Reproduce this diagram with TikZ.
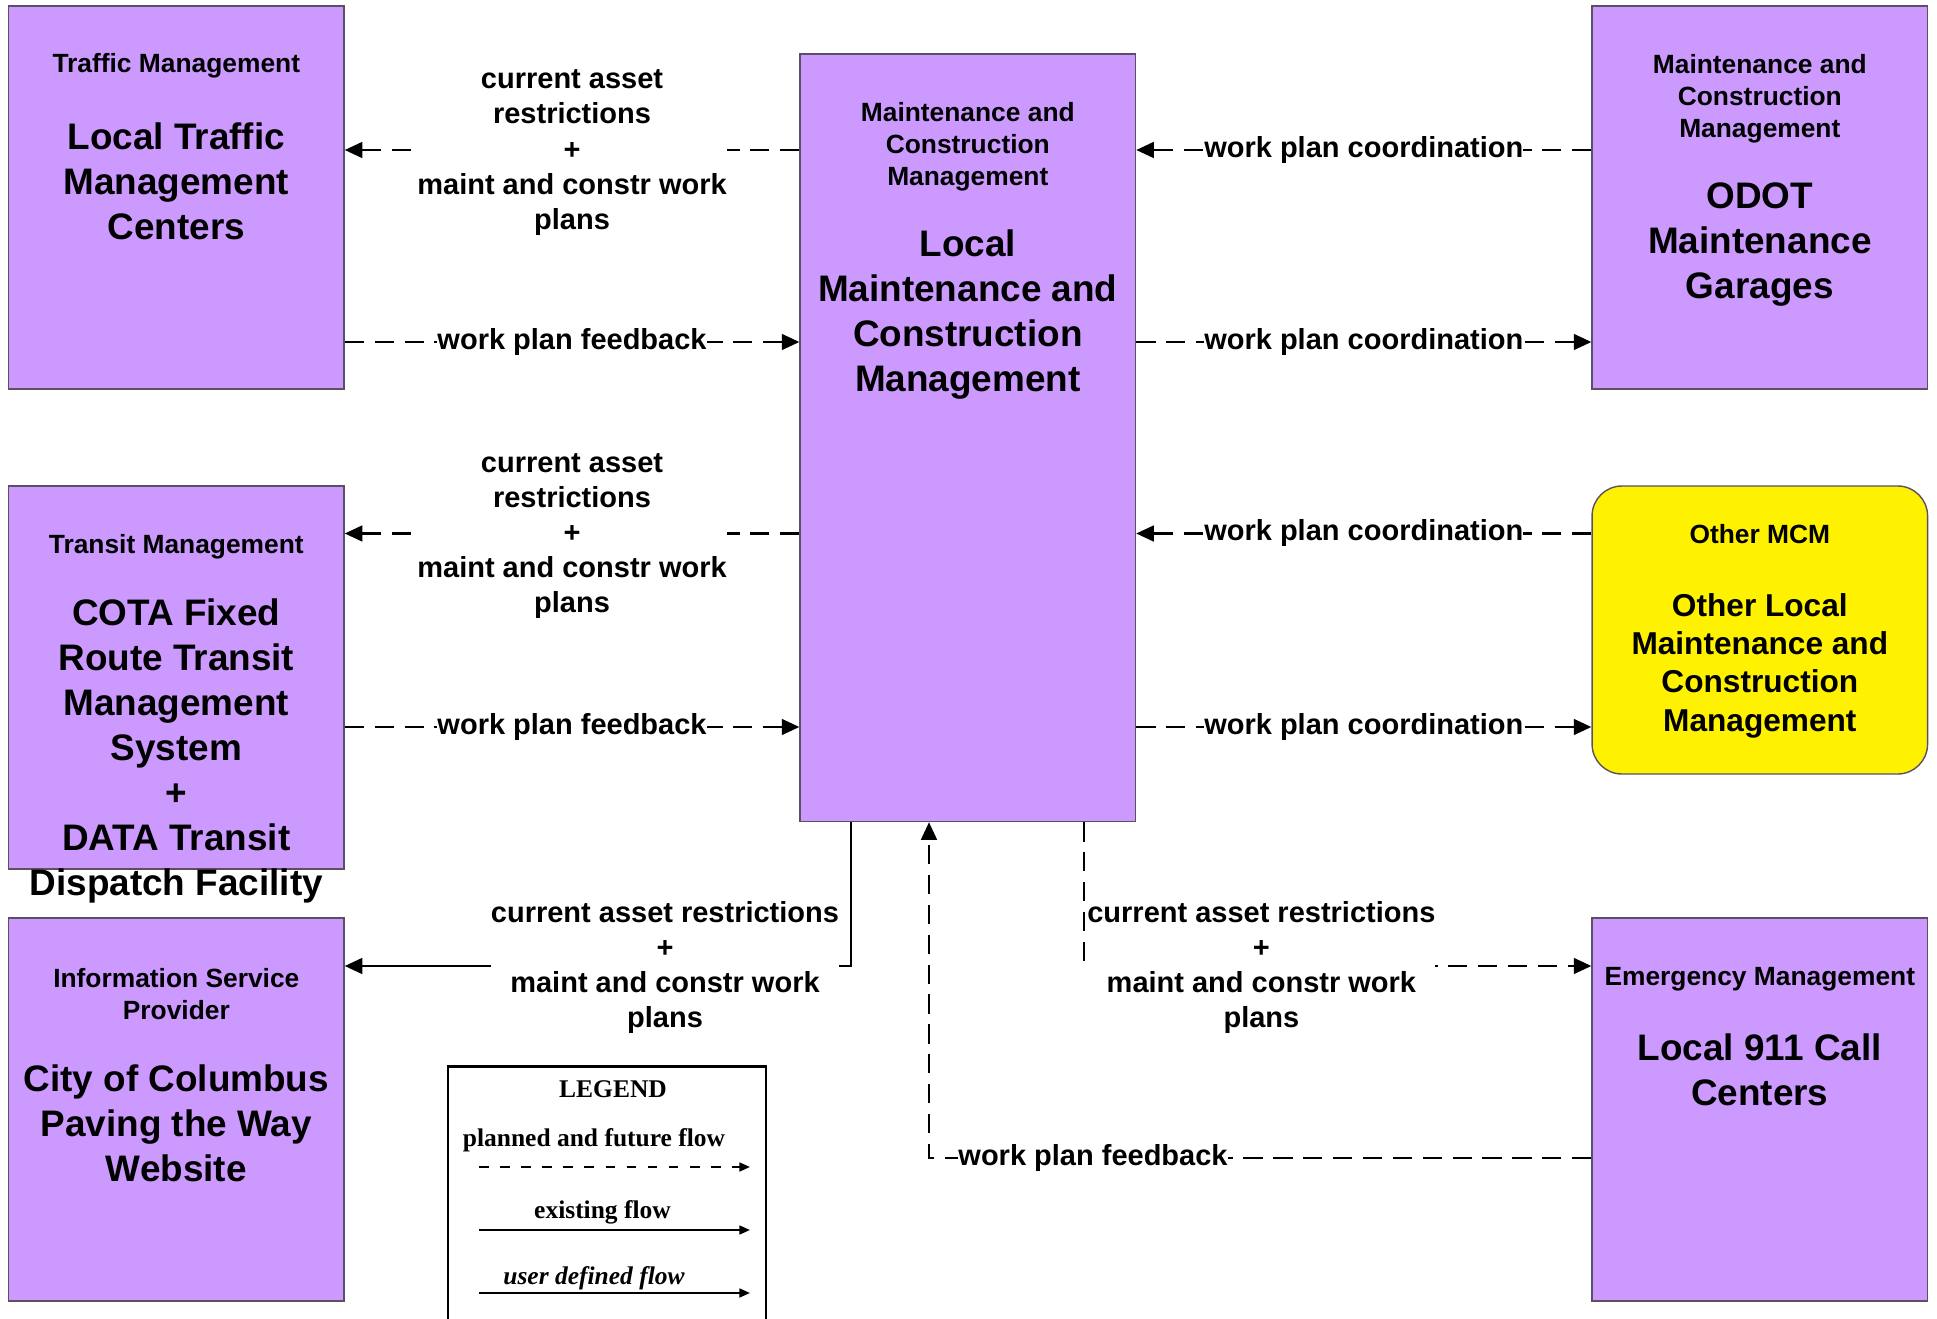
\documentclass[tikz,border=0pt]{standalone}
\usepackage{fontspec}
\setmainfont{Liberation Sans}
\newfontfamily\legendfont{Liberation Serif}
\usetikzlibrary{arrows.meta}
\definecolor{boxfill}{RGB}{204,153,255}
\definecolor{boxline}{RGB}{90,80,100}

\begin{document}
\begin{tikzpicture}[scale=0.2]
\tikzstyle{every node}+=[inner sep=0pt]
\tikzstyle{box}=[draw=boxline, fill=boxfill, line width=0.8pt, minimum width=6.71cm, minimum height=7.66cm]
\tikzstyle{hdr}=[align=center, font=\fontsize{15}{18.2}\selectfont\bfseries]
\tikzstyle{ttl}=[align=center, font=\fontsize{21}{25.6}\selectfont\bfseries]
\tikzstyle{lbl}=[align=center, fill=white, font=\fontsize{16.5}{20}\selectfont\bfseries]
\tikzstyle{legtxt}=[font=\legendfont\fontsize{14.5}{17}\selectfont\bfseries]
\tikzstyle{planned}=[line width=1.2pt, dash pattern=on 11pt off 6pt, -{Triangle[length=10pt,width=9pt]}]
\tikzstyle{existing}=[line width=1.2pt, -{Triangle[length=10pt,width=9pt]}]
\useasboundingbox (0,0) rectangle (193.7,-131.8);
% rows and columns of the flows
\coordinate (r1) at (0,-15);
\coordinate (r2) at (0,-34.2);
\coordinate (r3) at (0,-53.35);
\coordinate (r4) at (0,-72.7);
\coordinate (r5) at (0,-96.6);
\coordinate (r6) at (0,-115.8);
\coordinate (c1) at (85.07,0);
\coordinate (c2) at (92.9,0);
\coordinate (c3) at (108.4,0);
% elements
\node[box] (tmc) at (17.63,-19.75) {};
\draw (17.63,-6.6) node[hdr] (tmch) {Traffic Management};
\draw (17.63,-18.1) node[ttl] (tmct) {Local Traffic\\Management\\Centers};
\node[box, minimum height=15.35cm] (cmc) at (96.78,-43.78) {};
\draw (96.78,-14.65) node[hdr] (cmch) {Maintenance and\\Construction\\Management};
\draw (96.78,-31.5) node[ttl] (cmct) {Local\\Maintenance and\\Construction\\Management};
\node[box] (odot) at (175.98,-19.75) {};
\draw (175.98,-9.85) node[hdr] (odoth) {Maintenance and\\Construction\\Management};
\draw (175.98,-24.5) node[ttl] (odott) {ODOT\\Maintenance\\Garages};
\node[box] (tran) at (17.63,-67.75) {};
\draw (17.63,-54.65) node[hdr] (tranh) {Transit Management};
\draw (17.63,-75.1) node[ttl] (trant) {COTA Fixed\\Route Transit\\Management\\System\\+\\DATA Transit\\Dispatch Facility};
\node[box, fill=yellow, rounded corners=17pt, minimum height=5.76cm] (omc) at (175.98,-63.0) {};
\draw (175.98,-53.45) node[hdr] (omch) {Other MCM};
\draw (175.98,-66.55) node[align=center, font=\fontsize{18}{21.8}\selectfont\bfseries] (omct) {Other Local\\Maintenance and\\Construction\\Management};
\node[box] (isp) at (17.63,-110.95) {};
\draw (17.63,-99.4) node[hdr] (isph) {Information Service\\Provider};
\draw (17.63,-112.35) node[ttl] (ispt) {City of Columbus\\Paving the Way\\Website};
\node[box] (em) at (175.98,-110.95) {};
\draw (175.98,-97.95) node[hdr] (emh) {Emergency Management};
\draw (175.98,-107.0) node[ttl] (emt) {Local 911 Call\\Centers};
% flows
\draw[planned] (cmc.west |- r1) -- node[lbl, midway, yshift=-1.5pt] (f1) {current asset\\restrictions\\+\\maint and constr work\\plans} (tmc.east |- r1);
\draw[planned] (tmc.east |- r2) -- node[lbl, midway] (f2) {work plan feedback} (cmc.west |- r2);
\draw[planned] (odot.west |- r1) -- node[lbl, midway] (f3) {work plan coordination} (cmc.east |- r1);
\draw[planned] (cmc.east |- r2) -- node[lbl, midway] (f4) {work plan coordination} (odot.west |- r2);
\draw[planned] (cmc.west |- r3) -- node[lbl, midway, yshift=-1.5pt] (f5) {current asset\\restrictions\\+\\maint and constr work\\plans} (tran.east |- r3);
\draw[planned] (tran.east |- r4) -- node[lbl, midway] (f6) {work plan feedback} (cmc.west |- r4);
\draw[planned] (omc.west |- r3) -- node[lbl, midway] (f7) {work plan coordination} (cmc.east |- r3);
\draw[planned] (cmc.east |- r4) -- node[lbl, midway] (f8) {work plan coordination} (omc.west |- r4);
\draw[existing] (cmc.south -| c1) |- (isp.east |- r5);
\node[lbl] (f9) at (66.5,-96.75) {current asset restrictions\\+\\maint and constr work\\plans};
\draw[planned] (cmc.south -| c3) |- (em.west |- r5);
\node[lbl, anchor=west] (f10) at (108.7,-96.75) {current asset restrictions\\+\\maint and constr work\\plans};
\draw[planned] (em.west |- r6) -| (cmc.south -| c2);
\node[lbl] (f11) at (109.3,-115.8) {work plan feedback};
% legend
\node[draw, line width=1.5pt, minimum width=6.36cm, minimum height=5.3cm, anchor=north west] (leg) at (44.67,-106.5) {};
\draw (61.3,-108.9) node[legtxt] (legh) {LEGEND};
\draw (59.4,-114.0) node[legtxt] (leg1) {planned and future flow};
\draw (60.25,-121.2) node[legtxt] (leg2) {existing flow};
\draw (59.4,-127.8) node[legtxt] (leg3) {\itshape user defined flow};
\coordinate (la1) at (47.9,-116.7);
\coordinate (lb1) at (75.0,-116.7);
\coordinate (la2) at (47.9,-123.0);
\coordinate (lb2) at (75.0,-123.0);
\coordinate (la3) at (47.9,-129.3);
\coordinate (lb3) at (75.0,-129.3);
\draw[line width=1.2pt, dash pattern=on 5.5pt off 6.5pt, -{Triangle[length=6pt,width=5pt]}] (la1) -- (lb1);
\draw[line width=1.2pt, -{Triangle[length=6pt,width=5pt]}] (la2) -- (lb2);
\draw[line width=1.2pt, -{Triangle[length=6pt,width=5pt]}] (la3) -- (lb3);
\end{tikzpicture}
\end{document}
